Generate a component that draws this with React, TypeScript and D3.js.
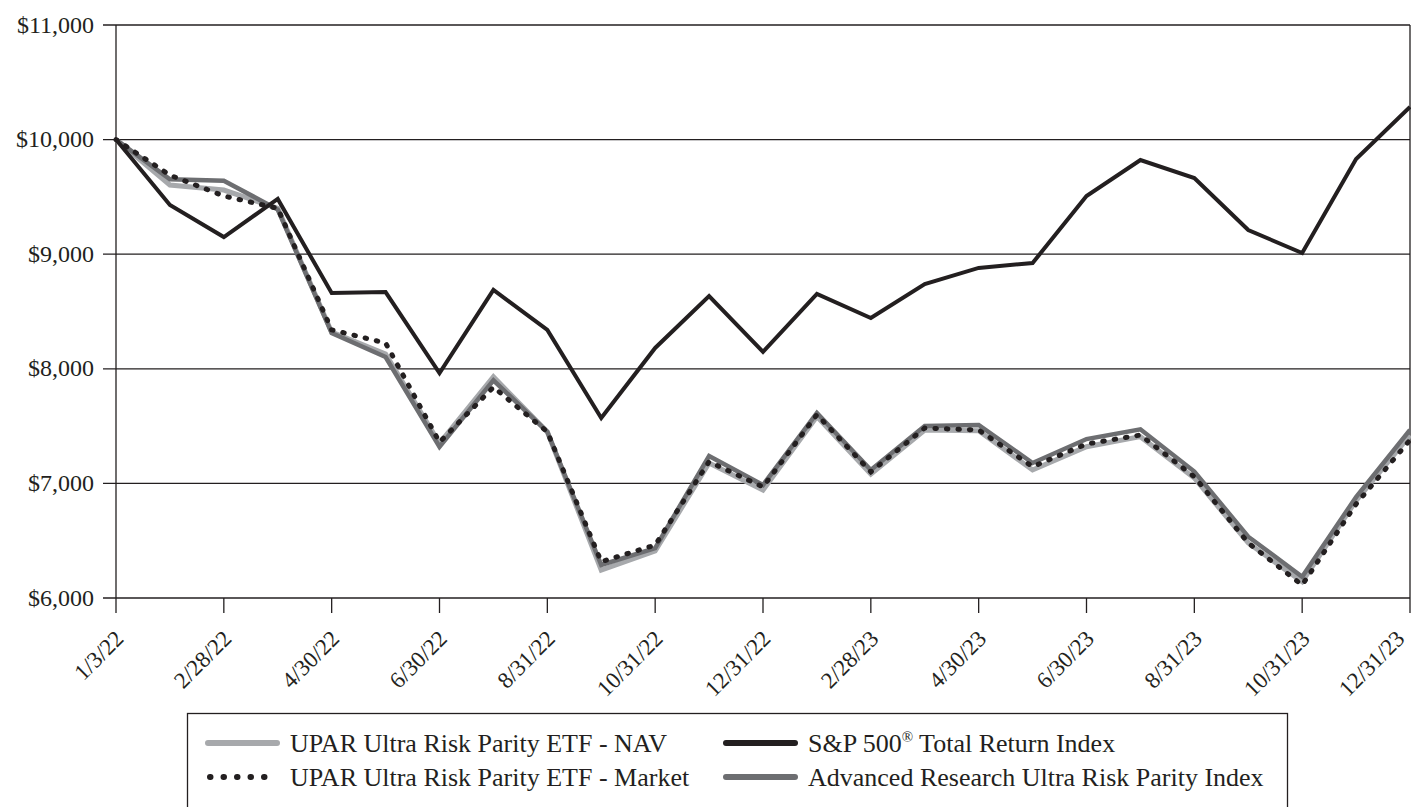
import React, { useEffect, useRef } from 'react';
import * as d3 from 'd3';

const dates = [
    '1/3/22', '1/31/22', '2/28/22', '3/31/22', '4/30/22', '5/31/22', '6/30/22', '7/31/22', '8/31/22',
    '9/30/22', '10/31/22', '11/30/22', '12/31/22', '1/31/23', '2/28/23', '3/31/23', '4/30/23',
    '5/31/23', '6/30/23', '7/31/23', '8/31/23', '9/30/23', '10/31/23', '11/30/23', '12/31/23'
];

const navValues = [10000, 9604, 9560, 9400, 8320, 8130, 7350, 7930, 7450, 6244, 6410, 7178, 6942,
    7583, 7082, 7466, 7460, 7117, 7320, 7408, 7047, 6480, 6143, 6850, 7420];
const marketValues = [10000, 9690, 9508, 9400, 8340, 8225, 7360, 7840, 7450, 6317, 6462, 7190, 6969,
    7600, 7100, 7483, 7466, 7146, 7344, 7422, 7058, 6480, 6113, 6820, 7379];
const spValues = [10000, 9429, 9150, 9482, 8661, 8670, 7963, 8688, 8339, 7571, 8182, 8635, 8147,
    8653, 8443, 8740, 8880, 8923, 9508, 9822, 9665, 9211, 9010, 9831, 10284];
const indexValues = [10000, 9653, 9641, 9390, 8312, 8103, 7320, 7900, 7450, 6288, 6436, 7239, 6986,
    7614, 7117, 7501, 7510, 7178, 7387, 7472, 7103, 6535, 6186, 6880, 7466];

const yTicks = [6000, 7000, 8000, 9000, 10000, 11000];

const series = [
    { name: 'UPAR Ultra Risk Parity ETF - NAV', values: navValues, color: '#a7a9ac', width: 5, dash: null },
    { name: 'Advanced Research Ultra Risk Parity Index', values: indexValues, color: '#6d6e71', width: 4.5, dash: null },
    { name: 'UPAR Ultra Risk Parity ETF - Market', values: marketValues, color: '#231f20', width: 5, dash: '1.5,10' },
    { name: 'S&P 500® Total Return Index', values: spValues, color: '#231f20', width: 4, dash: null },
];

const W = 1411;
const H = 807;
const FONT = '"Liberation Serif", serif';

export default function App() {
    const svgRef = useRef<SVGSVGElement>(null);

    useEffect(() => {
        if (!svgRef.current) return;
        const svg = d3.select(svgRef.current);
        svg.selectAll('*').remove();

        const margin = { top: 25, right: 0, bottom: 209, left: 116 };
        const x = d3.scalePoint<string>()
            .domain(dates)
            .range([margin.left, W - margin.right - 1]);
        const y = d3.scaleLinear()
            .domain([6000, 11000])
            .range([H - margin.bottom, margin.top]);

        // grid lines
        svg.append('g')
            .selectAll('line')
            .data(yTicks)
            .enter()
            .append('line')
            .attr('x1', margin.left - 13)
            .attr('x2', W - 1)
            .attr('y1', d => y(d))
            .attr('y2', d => y(d))
            .attr('stroke', '#231f20')
            .attr('stroke-width', 1.3);

        // frame verticals
        svg.append('line')
            .attr('x1', margin.left).attr('x2', margin.left)
            .attr('y1', y(11000)).attr('y2', y(6000))
            .attr('stroke', '#231f20').attr('stroke-width', 1.3);
        svg.append('line')
            .attr('x1', W - 1).attr('x2', W - 1)
            .attr('y1', y(11000)).attr('y2', y(6000))
            .attr('stroke', '#231f20').attr('stroke-width', 1.3);

        // y labels
        svg.append('g')
            .selectAll('text')
            .data(yTicks)
            .enter()
            .append('text')
            .attr('x', margin.left - 22)
            .attr('y', d => y(d))
            .attr('dy', '0.32em')
            .attr('text-anchor', 'end')
            .attr('font-family', FONT)
            .attr('font-size', 24)
            .attr('fill', '#231f20')
            .text(d => '$' + d3.format(',')(d));

        // x ticks + labels every other month
        const labelDates = dates.filter((_, i) => i % 2 === 0);
        svg.append('g')
            .selectAll('line')
            .data(labelDates)
            .enter()
            .append('line')
            .attr('x1', d => x(d)!)
            .attr('x2', d => x(d)!)
            .attr('y1', y(6000))
            .attr('y2', y(6000) + 15)
            .attr('stroke', '#231f20')
            .attr('stroke-width', 1.3);

        svg.append('g')
            .selectAll('text')
            .data(labelDates)
            .enter()
            .append('text')
            .attr('transform', d => `translate(${Math.min(x(d)! + 9, W - 5)},${y(6000) + 42}) rotate(-45)`)
            .attr('text-anchor', 'end')
            .attr('font-family', FONT)
            .attr('font-size', 23)
            .attr('fill', '#231f20')
            .text(d => d);

        // lines
        const line = d3.line<number>()
            .x((_, i) => x(dates[i])!)
            .y(d => y(d));

        svg.append('g')
            .selectAll('path')
            .data(series)
            .enter()
            .append('path')
            .attr('d', d => line(d.values))
            .attr('fill', 'none')
            .attr('stroke', d => d.color)
            .attr('stroke-width', d => d.width)
            .attr('stroke-linejoin', 'miter')
            .attr('stroke-linecap', d => (d.dash ? 'round' : 'butt'))
            .attr('stroke-dasharray', d => d.dash);

        // legend
        const legend = svg.append('g');
        legend.append('rect')
            .attr('x', 187.5)
            .attr('y', 713.5)
            .attr('width', 1100)
            .attr('height', 140)
            .attr('fill', 'white')
            .attr('stroke', '#231f20')
            .attr('stroke-width', 1.3);

        const legendItems = [
            { s: series[0], col: 0, row: 0 },
            { s: series[2], col: 0, row: 1 },
            { s: series[3], col: 1, row: 0 },
            { s: series[1], col: 1, row: 1 },
        ];
        const swatchX = [208, 726];
        const textX = [290, 808];
        const rowY = [743, 777];
        legendItems.forEach(({ s, col, row }) => {
            const g = legend.append('g');
            g.append('line')
                .attr('x1', swatchX[col] + (s.dash ? 2 : 0))
                .attr('x2', swatchX[col] + 69)
                .attr('y1', rowY[row])
                .attr('y2', rowY[row])
                .attr('stroke', s.color)
                .attr('stroke-width', 6)
                .attr('stroke-linecap', 'round')
                .attr('stroke-dasharray', s.dash ? '0.5,13' : null);
            const text = g.append('text')
                .attr('x', textX[col])
                .attr('y', rowY[row])
                .attr('dy', '0.35em')
                .attr('font-family', FONT)
                .attr('font-size', 26)
                .attr('fill', '#231f20');
            const parts = s.name.split('®');
            text.append('tspan').text(parts[0]);
            if (parts.length > 1) {
                text.append('tspan')
                    .attr('font-size', 15)
                    .attr('dy', -10)
                    .text('®');
                text.append('tspan')
                    .attr('dy', 10)
                    .text(parts[1]);
            }
        });
    }, []);

    return (
        <svg
            ref={svgRef}
            width={W}
            height={H}
            style={{ position: 'absolute', left: 0, top: 0, background: 'white' }}
        />
    );
}
